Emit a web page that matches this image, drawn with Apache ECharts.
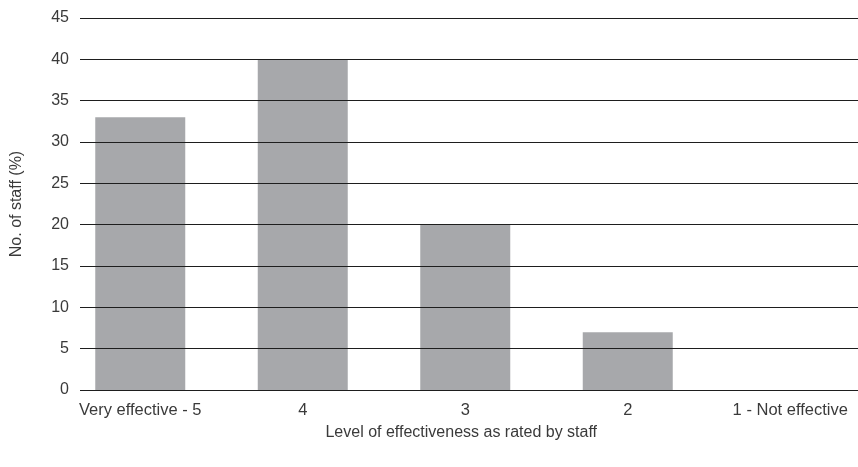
<!DOCTYPE html>
<html>
<head>
<meta charset="utf-8">
<script src="https://cdn.jsdelivr.net/npm/echarts@6/dist/echarts.min.js"></script>
<style>
  html, body { margin: 0; padding: 0; background: #fff; overflow: hidden; }
  /* the category bands run a little past the right edge of the view */
  #chart { width: 872px; height: 467px; }
</style>
</head>
<body>
<div id="chart"></div>
<script>
// Share of staff by rated level of effectiveness
const categories = ['Very effective - 5', '4', '3', '2', '1 - Not effective'];
const staffPct = [33, 40, 20, 7, 0];
const yMin = 0, yMax = 45, yStep = 5;

const textColor = '#3a3a3a';
const font = '"Liberation Sans", Arial, sans-serif';

const chart = echarts.init(document.getElementById('chart'));
chart.setOption({
  animation: false,
  backgroundColor: '#ffffff',
  grid: [
    // grid for the bars
    { left: 59, width: 812.5, top: 18, bottom: 77, containLabel: false },
    // grid carrying the value scale and horizontal rules
    { left: 80, width: 778, top: 18, bottom: 77, containLabel: false }
  ],
  xAxis: [
    {
      type: 'category', gridIndex: 0, data: categories,
      axisLine: { show: false }, axisTick: { show: false },
      axisLabel: { color: textColor, fontFamily: font, fontSize: 16.5, margin: 12, interval: 0 },
      name: 'Level of effectiveness as rated by staff',
      nameLocation: 'middle', nameGap: 35,
      nameTextStyle: { color: textColor, fontFamily: font, fontSize: 16, padding: [0, 8, 0, 0] }
    },
    { type: 'value', gridIndex: 1, show: false, min: 0, max: 1 }
  ],
  yAxis: [
    { type: 'value', gridIndex: 0, min: yMin, max: yMax, interval: yStep, show: false },
    {
      type: 'value', gridIndex: 1, min: yMin, max: yMax, interval: yStep, z: 10,
      axisLine: { show: false }, axisTick: { show: false },
      axisLabel: { color: textColor, fontFamily: font, fontSize: 16, margin: 11 },
      splitLine: { show: true, lineStyle: { color: '#1e1e1e', width: 1 } },
      name: 'No. of staff (%)', nameLocation: 'middle', nameGap: 55, nameRotate: 90,
      nameTextStyle: { color: textColor, fontFamily: font, fontSize: 16 }
    }
  ],
  series: [
    {
      type: 'bar', xAxisIndex: 0, yAxisIndex: 0,
      data: staffPct, barWidth: 90,
      itemStyle: { color: '#a7a8ab' }
    }
  ]
});
</script>
</body>
</html>
